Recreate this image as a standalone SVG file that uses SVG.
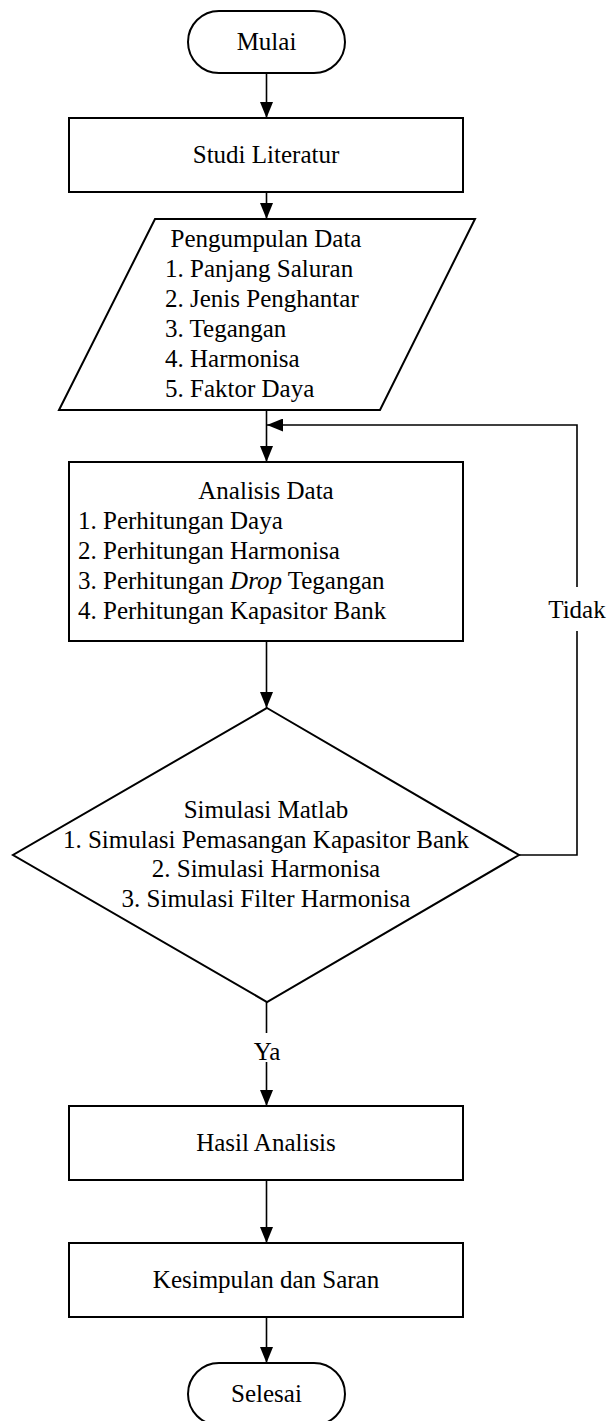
<svg xmlns="http://www.w3.org/2000/svg" width="609" height="1421" viewBox="0 0 609 1421">
<style>
.shape{fill:#fff;stroke:#000;stroke-width:2}
.line{fill:none;stroke:#000;stroke-width:1.6}
text{font-family:"Liberation Serif","Times New Roman",serif;font-size:25px;fill:#000}
.c{text-anchor:middle}
</style>
<defs>
<marker id="ah" markerUnits="userSpaceOnUse" markerWidth="16" markerHeight="13" refX="16" refY="6.5" orient="auto">
<path d="M0,0 L16,6.5 L0,13 z" fill="#000"/>
</marker>
</defs>
<rect width="609" height="1421" fill="#fff"/>
<g id="connectors">
<path class="line" d="M266.5,73 V118" marker-end="url(#ah)"/>
<path class="line" d="M266.5,192 V219" marker-end="url(#ah)"/>
<path class="line" d="M266.5,410 V462" marker-end="url(#ah)"/>
<path class="line" d="M266.5,641 V708" marker-end="url(#ah)"/>
<path class="line" d="M266.5,1002 V1033"/>
<path class="line" d="M266.5,1062 V1106" marker-end="url(#ah)"/>
<path class="line" d="M266.5,1180 V1243" marker-end="url(#ah)"/>
<path class="line" d="M266.5,1317 V1363" marker-end="url(#ah)"/>
<path class="line" d="M519,855 H577 V631"/>
<path class="line" d="M577,587 V425 H267" marker-end="url(#ah)"/>
<text class="c" x="577" y="618">Tidak</text>
<text class="c" x="267" y="1060">Ya</text>
</g>
<g id="mulai">
<rect class="shape" x="188" y="11" width="157" height="62" rx="31" ry="31"/>
<text class="c" x="266.5" y="50">Mulai</text>
</g>
<g id="studi">
<rect class="shape" x="69" y="118" width="394" height="74"/>
<text class="c" x="266" y="163">Studi Literatur</text>
</g>
<g id="pengumpulan">
<polygon class="shape" points="155,219 475,219 380,410 59,410"/>
<text class="c" x="266" y="247">Pengumpulan Data</text>
<text x="165" y="277">1. Panjang Saluran</text>
<text x="165" y="307">2. Jenis Penghantar</text>
<text x="165" y="337">3. Tegangan</text>
<text x="165" y="367">4. Harmonisa</text>
<text x="165" y="397">5. Faktor Daya</text>
</g>
<g id="analisis">
<rect class="shape" x="69" y="462" width="394" height="179"/>
<text class="c" x="266" y="499">Analisis Data</text>
<text x="78" y="529">1. Perhitungan Daya</text>
<text x="78" y="559">2. Perhitungan Harmonisa</text>
<text x="78" y="589">3. Perhitungan <tspan font-style="italic">Drop</tspan> Tegangan</text>
<text x="78" y="619">4. Perhitungan Kapasitor Bank</text>
</g>
<g id="simulasi">
<polygon class="shape" points="267,708 519,855 267,1002 13,855"/>
<text class="c" x="266" y="818">Simulasi Matlab</text>
<text class="c" x="266" y="848">1. Simulasi Pemasangan Kapasitor Bank</text>
<text class="c" x="266" y="877">2. Simulasi Harmonisa</text>
<text class="c" x="266" y="907">3. Simulasi Filter Harmonisa</text>
</g>
<g id="hasil">
<rect class="shape" x="69" y="1106" width="394" height="74"/>
<text class="c" x="266" y="1151">Hasil Analisis</text>
</g>
<g id="kesimpulan">
<rect class="shape" x="69" y="1243" width="394" height="74"/>
<text class="c" x="266" y="1288">Kesimpulan dan Saran</text>
</g>
<g id="selesai">
<rect class="shape" x="188" y="1363" width="157" height="62" rx="31" ry="31"/>
<text class="c" x="266.5" y="1402">Selesai</text>
</g>
</svg>
